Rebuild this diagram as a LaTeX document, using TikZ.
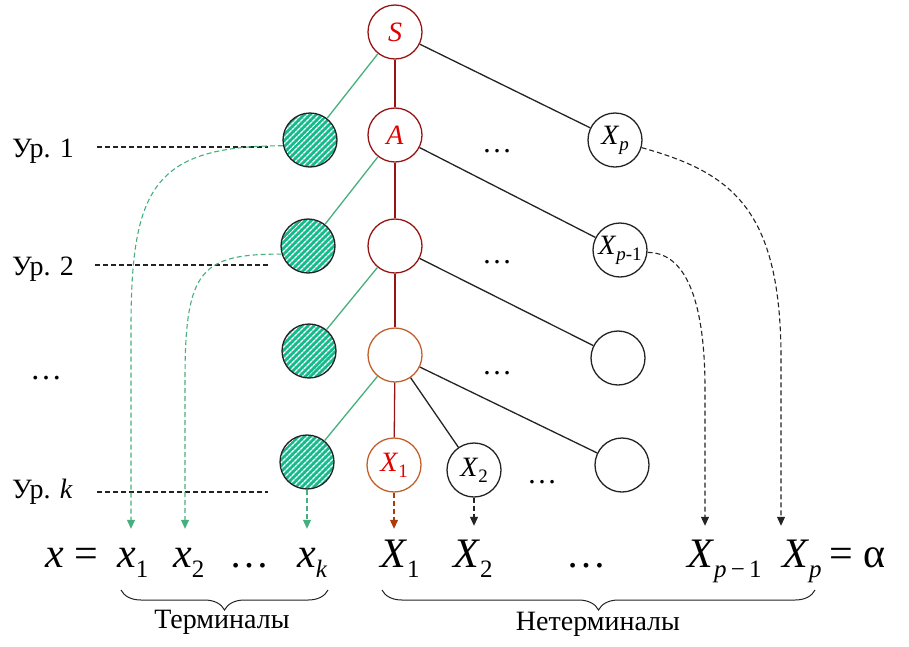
\documentclass[tikz,border=0pt]{standalone}
\usepackage{fontspec}
\setmainfont{Liberation Serif}
\usetikzlibrary{arrows.meta,patterns.meta,decorations.pathreplacing}
\definecolor{gline}{RGB}{70,175,125}
\definecolor{gfill}{RGB}{20,185,140}
\definecolor{dred}{RGB}{150,20,20}
\definecolor{obrown}{RGB}{195,95,40}
\definecolor{tred}{RGB}{225,0,0}
\definecolor{arrbrown}{RGB}{170,60,10}
\definecolor{dgray}{RGB}{35,35,35}
\newcommand\fs[1]{\fontsize{#1}{#1}\selectfont}
\newcommand\lowsub[3]{\raisebox{-#2pt}{\fs{#1}#3}}
\tikzset{
  nd/.style={circle,minimum size=54pt,inner sep=0pt,line width=1.3pt,font={\fs{28}}},
  blk/.style={nd,draw=dgray,fill=white},
  rd/.style={nd,draw=dred,fill=white},
  og/.style={nd,draw=obrown,fill=white},
  gr/.style={nd,draw=dgray,preaction={fill=gfill},pattern={Lines[angle=45,distance=4pt,line width=1.5pt]},pattern color=white},
  gedge/.style={draw=gline,line width=1.3pt},
  redge/.style={draw=dred,line width=1.3pt},
  bedge/.style={draw=dgray,line width=1.3pt},
  dsh/.style={dash pattern=on 5pt off 3pt,line width=1.1pt},
  tip/.style={-{Triangle[width=8pt,length=9pt]}},
  btxt/.style={anchor=base west,inner sep=0pt,text height=38pt,font={\fs{42}}},
  lvl/.style={anchor=base west,inner sep=0pt,font={\fs{28}}},
  dots/.style={anchor=base west,inner sep=0pt,font={\fs{30}}},
  brc/.style={decorate,decoration={brace,mirror,amplitude=20pt},line width=1pt,draw=dgray},
}
\begin{document}
\begin{tikzpicture}[x=1pt,y=-1pt]
\useasboundingbox (0,0) rectangle (909,646);
% tree nodes
\node[rd] (S) at (395,32) {\textit{\color{tred}S}};
\node[rd] (A) at (395,135) {\textit{\color{tred}A}};
\node[rd] (m3) at (395,246) {};
\node[og] (m4) at (395,355) {};
\node[og] (X1) at (394,465) {\color{tred}\textit{X}\lowsub{19}{6}{1}};
\node[blk] (X2) at (474,470) {\textit{X}\lowsub{19}{6}{2}};
\node[gr] (g1) at (310,140) {};
\node[gr] (g2) at (308,246) {};
\node[gr] (g3) at (309,351) {};
\node[gr] (g4) at (307,462) {};
\node[blk] (Xp) at (615,140) {\textit{X}\lowsub{19}{6}{\textit{p}}};
\node[blk] (Xpm1) at (620,250) {\textit{X}\lowsub{19}{6}{\textit{p}-1}};
\node[blk] (c3) at (618,358) {};
\node[blk] (c4) at (622,465) {};
% dots in tree
\node[dots] (d1) at (482,152) {…};
\node[dots] (d2) at (482,263) {…};
\node[dots] (d3) at (482,374) {…};
\node[dots] (d4) at (527,483) {…};
% edges
\path[gedge] (S) -- (g1);
\path[redge] (S) -- (A);
\path[bedge] (S) -- (Xp);
\path[gedge] (A) -- (g2);
\path[redge] (A) -- (m3);
\path[bedge] (A) -- (Xpm1);
\path[gedge] (m3) -- (g3);
\path[redge] (m3) -- (m4);
\path[bedge] (m3) -- (c3);
\path[gedge] (m4) -- (g4);
\path[redge] (m4) -- (X1);
\path[bedge] (m4) -- (X2);
\path[bedge] (m4) -- (c4);
% level labels
\node[lvl] (l1) at (12,157) {Ур. 1};
\node[lvl] (l2) at (12,275) {Ур. 2};
\node[lvl,font={\fs{32}}] (ld) at (30,379) {…};
\node[lvl] (lk) at (12,498) {Ур. \textit{k}};
\coordinate (s1) at (97,147); \coordinate (e1) at (268,147);
\coordinate (s2) at (95,265); \coordinate (e2) at (268,265);
\coordinate (sk) at (97,492); \coordinate (ek) at (268,492);
\draw[dsh,dgray] (s1) -- (e1);
\draw[dsh,dgray] (s2) -- (e2);
\draw[dsh,dgray] (sk) -- (ek);
% bottom formula
\node[btxt] (xl) at (45,567) {\textit{x} =};
\node[btxt] (x1) at (117,567) {\textit{x}\lowsub{25}{10}{1}};
\node[btxt] (x2) at (173,567) {\textit{x}\lowsub{25}{10}{2}};
\node[btxt,font={\fs{40}}] (bd1) at (229,567) {…};
\node[btxt] (xk) at (297,567) {\textit{x}\lowsub{25}{10}{\textit{k}}};
\node[btxt] (X1b) at (380,567) {\textit{X}\lowsub{25}{10}{1}};
\node[btxt] (X2b) at (453,567) {\textit{X}\lowsub{25}{10}{2}};
\node[btxt,font={\fs{40}}] (bd2) at (566,567) {…};
\node[btxt] (Xpm1b) at (687,567) {\textit{X}\lowsub{25}{10}{\textit{p}\,−\,1}};
\node[btxt] (Xpb) at (782,567) {\textit{X}\lowsub{25}{10}{\textit{p}}\hspace{8pt}= α};
% arrows
\draw[gline,dsh,tip] (g1.192) .. controls +(-130,0) and +(0,-140) .. ([xshift=14pt,yshift=200pt]x1.north west) -- ([xshift=14pt]x1.north west);
\draw[gline,dsh,tip] (g2.197) .. controls +(-80,0) and +(0,-110) .. ([xshift=12pt,yshift=150pt]x2.north west) -- ([xshift=12pt]x2.north west);
\draw[gline,dsh,tip] (g4.south) -- (g4.south |- xk.north);
\draw[arrbrown,dsh,tip] (X1.south) -- (X1.south |- X1b.north);
\draw[dgray,dsh,tip] (X2.south) -- ([yshift=3pt]X2.south |- X2b.north);
\draw[dgray,dsh,tip] (Xpm1.-5) .. controls +(45,0) and +(0,-70) .. ([xshift=18pt,yshift=140pt]Xpm1b.north west) -- ([xshift=18pt,yshift=3pt]Xpm1b.north west);
\draw[dgray,dsh,tip] (Xp.-16) .. controls +(90,25) and +(0,-150) .. ([xshift=-1pt,yshift=170pt]Xpb.north west) -- ([xshift=-1pt,yshift=3pt]Xpb.north west);
% braces
\coordinate (tb1) at (121,590); \coordinate (tb2) at (328,590);
\coordinate (nb1) at (382,590); \coordinate (nb2) at (815,590);
\draw[brc] (tb1) -- (tb2);
\draw[brc] (nb1) -- (nb2);
\node[anchor=base,inner sep=0pt,font={\fs{28}}] (term) at (222,628) {Терминалы};
\node[anchor=base,inner sep=0pt,font={\fs{28}}] (nterm) at (598,630) {Нетерминалы};
\end{tikzpicture}
\end{document}
